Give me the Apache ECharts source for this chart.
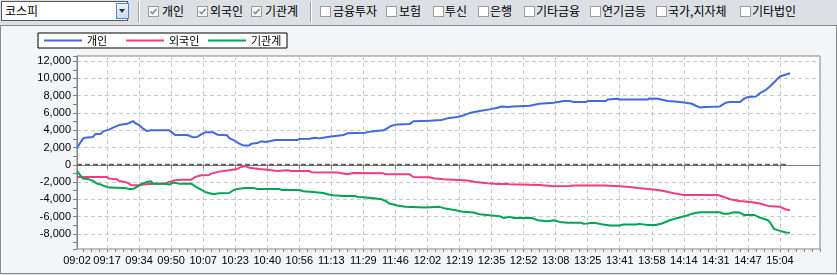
<!DOCTYPE html>
<html>
<head>
<meta charset="utf-8">
<script src="https://cdn.jsdelivr.net/npm/echarts@6/dist/echarts.min.js"></script>
<style>
html,body{margin:0;padding:0;width:837px;height:275px;overflow:hidden;background:#dcdfe4;font-family:'Noto Sans CJK KR',sans-serif;}
#panel{position:absolute;left:0;top:25px;width:835px;height:247px;border:1px solid #8a8a8a;background:#f4f5f7;}
#chart{position:absolute;left:0;top:0;width:837px;height:275px;}
#toolbar{position:absolute;left:0;top:0;width:837px;height:25px;font-size:12px;color:#000;}
.combo{position:absolute;left:1px;top:1px;width:125px;height:18px;border:1px solid #5a5a5a;background:#fff;}
.combo span{position:absolute;left:3px;top:0;line-height:18px;font-size:12px;}
.btn{position:absolute;left:114px;top:1px;width:11px;height:14px;border:1px solid #5b86c6;background:linear-gradient(#eef4fd,#c9daf3);}
.btn i{position:absolute;left:2px;top:5px;width:0;height:0;border-left:3.5px solid transparent;border-right:3.5px solid transparent;border-top:4px solid #333;}
.sep{position:absolute;top:2px;width:1px;height:20px;background:#a4a4a4;border-right:1px solid #fff;}
.cb{position:absolute;top:6px;width:11px;height:11px;}
.lb{position:absolute;top:0;line-height:22px;white-space:nowrap;}
</style>
</head>
<body>
<div id="panel"></div>
<div id="toolbar">
  <div class="combo"><span>코스피</span><div class="btn"><i></i></div></div>
  <div class="sep" style="left:138px"></div>
  <svg class="cb" style="left:148px" viewBox="0 0 11 11"><rect x="0.5" y="0.5" width="10" height="10" fill="#f6f6f6" stroke="#9c9c9c"/><polyline points="2.5,5.5 4.5,7.5 8.5,3" fill="none" stroke="#8a8a8a" stroke-width="1.6"/></svg><span class="lb" style="left:162px">개인</span>
  <svg class="cb" style="left:197px" viewBox="0 0 11 11"><rect x="0.5" y="0.5" width="10" height="10" fill="#f6f6f6" stroke="#9c9c9c"/><polyline points="2.5,5.5 4.5,7.5 8.5,3" fill="none" stroke="#8a8a8a" stroke-width="1.6"/></svg><span class="lb" style="left:210px">외국인</span>
  <svg class="cb" style="left:251px" viewBox="0 0 11 11"><rect x="0.5" y="0.5" width="10" height="10" fill="#f6f6f6" stroke="#9c9c9c"/><polyline points="2.5,5.5 4.5,7.5 8.5,3" fill="none" stroke="#8a8a8a" stroke-width="1.6"/></svg><span class="lb" style="left:265px">기관계</span>
  <div class="sep" style="left:310px"></div>
  <svg class="cb" style="left:320px" viewBox="0 0 11 11"><rect x="0.5" y="0.5" width="10" height="10" fill="#fff" stroke="#9c9c9c"/></svg><span class="lb" style="left:333px">금융투자</span>
  <svg class="cb" style="left:386px" viewBox="0 0 11 11"><rect x="0.5" y="0.5" width="10" height="10" fill="#fff" stroke="#9c9c9c"/></svg><span class="lb" style="left:399px">보험</span>
  <svg class="cb" style="left:433px" viewBox="0 0 11 11"><rect x="0.5" y="0.5" width="10" height="10" fill="#fff" stroke="#9c9c9c"/></svg><span class="lb" style="left:445px">투신</span>
  <svg class="cb" style="left:478px" viewBox="0 0 11 11"><rect x="0.5" y="0.5" width="10" height="10" fill="#fff" stroke="#9c9c9c"/></svg><span class="lb" style="left:490px">은행</span>
  <svg class="cb" style="left:524px" viewBox="0 0 11 11"><rect x="0.5" y="0.5" width="10" height="10" fill="#fff" stroke="#9c9c9c"/></svg><span class="lb" style="left:536px">기타금융</span>
  <svg class="cb" style="left:590px" viewBox="0 0 11 11"><rect x="0.5" y="0.5" width="10" height="10" fill="#fff" stroke="#9c9c9c"/></svg><span class="lb" style="left:602px">연기금등</span>
  <svg class="cb" style="left:656px" viewBox="0 0 11 11"><rect x="0.5" y="0.5" width="10" height="10" fill="#fff" stroke="#9c9c9c"/></svg><span class="lb" style="left:668px">국가,지자체</span>
  <svg class="cb" style="left:740px" viewBox="0 0 11 11"><rect x="0.5" y="0.5" width="10" height="10" fill="#fff" stroke="#9c9c9c"/></svg><span class="lb" style="left:752px">기타법인</span>
</div>
<div id="chart"></div>
<script>
// ---- data ----
const seriesNames = ['개인', '외국인', '기관계'];
const timeLabels = ['09:02','09:17','09:34','09:50','10:07','10:23','10:40','10:56','11:13','11:29','11:46','12:02','12:19','12:35','12:52','13:08','13:25','13:41','13:58','14:14','14:31','14:47','15:04'];
const timeLabelIndex = [0,15,31,47,63,79,95,111,127,143,159,175,191,207,223,239,255,271,287,303,319,335,351];
const slotCount = 372;
// [sample index, value]
const personal = [[0,1980],[3,3030],[4,3140],[8,3220],[9,3530],[12,3600],[13,3870],[16,4070],[18,4300],[21,4600],[25,4760],[26,4840],[28,5070],[29,4840],[31,4600],[33,4180],[35,3910],[37,3990],[46,3990],[47,3830],[49,3450],[55,3450],[56,3370],[58,3180],[60,3220],[62,3530],[64,3760],[68,3760],[70,3490],[75,3410],[76,3100],[79,2760],[81,2450],[83,2250],[86,2250],[87,2450],[90,2520],[92,2720],[94,2640],[96,2720],[99,2870],[110,2870],[111,2990],[116,3030],[119,3140],[121,3060],[123,3140],[126,3260],[133,3450],[135,3640],[144,3720],[147,3870],[153,3990],[155,4260],[157,4530],[160,4680],[166,4720],[168,5030],[176,5110],[182,5180],[185,5380],[190,5530],[193,5720],[196,5990],[201,6220],[206,6420],[210,6610],[212,6760],[215,6690],[218,6760],[226,6840],[231,7070],[238,7190],[243,7380],[246,7380],[248,7260],[254,7260],[255,7380],[264,7380],[265,7570],[270,7650],[271,7570],[285,7570],[286,7690],[290,7650],[295,7380],[300,7300],[304,7190],[307,7070],[309,6840],[311,6650],[314,6690],[321,6760],[324,7190],[326,7260],[331,7260],[333,7650],[335,7840],[339,7920],[341,8300],[344,8690],[346,9070],[349,9770],[351,10230],[354,10460],[356,10610]];
const foreign = [[0,-1410],[15,-1410],[16,-1600],[20,-1680],[21,-1870],[24,-1980],[26,-2180],[27,-2370],[31,-2370],[34,-2250],[40,-2180],[44,-2180],[46,-1980],[49,-1790],[53,-1720],[57,-1720],[59,-1410],[62,-1210],[66,-1180],[67,-1020],[71,-790],[76,-640],[80,-480],[82,-250],[84,-140],[86,-330],[91,-480],[95,-560],[97,-640],[100,-710],[105,-640],[107,-710],[116,-710],[117,-870],[130,-900],[135,-1100],[138,-940],[153,-980],[154,-1100],[166,-1100],[168,-1410],[176,-1450],[178,-1560],[183,-1680],[190,-1750],[195,-1830],[199,-1980],[205,-2140],[210,-2220],[215,-2220],[216,-2250],[231,-2330],[238,-2490],[246,-2450],[248,-2390],[263,-2410],[271,-2490],[276,-2560],[280,-2680],[285,-2790],[290,-2910],[294,-3100],[298,-3290],[303,-3490],[320,-3490],[323,-3720],[326,-3990],[331,-4180],[337,-4340],[341,-4490],[345,-4760],[351,-4870],[354,-5180],[356,-5260]];
const institution = [[0,-710],[1,-1020],[3,-1600],[6,-1680],[8,-1870],[10,-2180],[12,-2290],[14,-2490],[16,-2640],[24,-2680],[26,-2790],[28,-2790],[30,-2560],[32,-2250],[35,-1980],[37,-1910],[38,-2180],[44,-2180],[46,-2290],[48,-2060],[51,-2180],[57,-2180],[59,-2490],[61,-2760],[64,-3140],[68,-3410],[71,-3290],[76,-3260],[78,-2950],[80,-2790],[84,-2680],[88,-2680],[90,-2790],[101,-2790],[102,-2910],[111,-2910],[113,-3060],[118,-3140],[123,-3260],[125,-3410],[128,-3530],[133,-3600],[139,-3600],[140,-3720],[143,-3760],[148,-3870],[152,-3990],[154,-4180],[156,-4490],[160,-4720],[164,-4870],[174,-4950],[181,-4870],[184,-5070],[189,-5260],[193,-5450],[198,-5530],[201,-5720],[206,-5840],[211,-5950],[213,-6150],[216,-6030],[218,-6150],[227,-6150],[230,-6420],[235,-6530],[238,-6420],[241,-6610],[245,-6720],[252,-6720],[253,-6840],[258,-6720],[262,-6880],[266,-7030],[271,-7030],[273,-6920],[279,-6920],[281,-6840],[285,-6960],[289,-6960],[292,-6800],[296,-6420],[300,-6150],[304,-5910],[307,-5680],[311,-5490],[321,-5490],[323,-5680],[325,-5680],[328,-5490],[331,-5530],[333,-5800],[338,-5800],[341,-6110],[345,-6420],[346,-6650],[348,-7420],[351,-7650],[354,-7840],[356,-7880]];
const zeroLine = [[0,0],[355,0]];
const yMin = -9750, yMax = 12600;

// ---- build ----
const categories = new Array(slotCount).fill('');
timeLabelIndex.forEach((idx, k) => { categories[idx] = timeLabels[k]; });
const isMajor = (i) => categories[i] !== '';
const isMinor = (i) => i >= 15 ? (i - 15) % 4 === 0 : (15 - i) % 4 === 0;

const chart = echarts.init(document.getElementById('chart'), null, {renderer: 'canvas'});
const gridLine = {color: '#c9c9c9', type: [4, 3], width: 1};
chart.setOption({
  animation: false,
  backgroundColor: 'transparent',
  textStyle: {fontFamily: "'Liberation Sans', 'Noto Sans CJK KR', sans-serif"},
  grid: {left: 77, right: 17, top: 56, bottom: 26, show: true, backgroundColor: '#ffffff', borderColor: '#808080', borderWidth: 1, containLabel: false},
  legend: {
    left: 38, top: 33, orient: 'horizontal',
    data: seriesNames,
    icon: 'rect', itemWidth: 38, itemHeight: 2, itemGap: 3,
    backgroundColor: '#ffffff', borderColor: '#000000', borderWidth: 1, borderRadius: 0,
    padding: [2, 0, 2, 6],
    textStyle: {fontSize: 11, color: '#000', width: 36, lineHeight: 11, fontFamily: "'Noto Sans CJK KR', sans-serif"}
  },
  xAxis: [{
    type: 'category', data: categories, boundaryGap: false, position: 'bottom',
    axisLine: {lineStyle: {color: '#808080'}},
    axisTick: {show: true, interval: (i) => isMajor(i), length: 4, lineStyle: {color: '#808080'}},
    axisLabel: {interval: (i) => isMajor(i), fontSize: 11, color: '#000', margin: 6},
    splitLine: {show: true, interval: (i) => isMajor(i), lineStyle: gridLine}
  }, {
    type: 'category', data: categories, boundaryGap: false, position: 'bottom',
    axisLine: {show: false},
    axisTick: {show: true, interval: (i) => isMinor(i), length: 3, lineStyle: {color: '#808080'}},
    axisLabel: {show: false},
    splitLine: {show: false}
  }],
  yAxis: {
    type: 'value', min: yMin, max: yMax, splitNumber: 11,
    axisLine: {show: true, lineStyle: {color: '#808080'}},
    axisTick: {show: true, length: 4, lineStyle: {color: '#808080'}},
    minorTick: {show: true, splitNumber: 2, length: 4, lineStyle: {color: '#808080'}},
    axisLabel: {showMinLabel: false, showMaxLabel: false, fontSize: 11, color: '#000', margin: 6},
    splitLine: {show: true, lineStyle: gridLine}
  },
  series: [
    {type: 'line', name: 'zero', data: zeroLine, symbol: 'none', silent: true, lineStyle: {color: '#606060', width: 2, type: [5, 3]}, z: 1},
    {type: 'line', name: seriesNames[0], data: personal, symbol: 'none', color: '#4169E1', lineStyle: {width: 2}, z: 3},
    {type: 'line', name: seriesNames[1], data: foreign, symbol: 'none', color: '#F03C82', lineStyle: {width: 2}, z: 3},
    {type: 'line', name: seriesNames[2], data: institution, symbol: 'none', color: '#00A550', lineStyle: {width: 2}, z: 3}
  ]
});
</script>
</body>
</html>
